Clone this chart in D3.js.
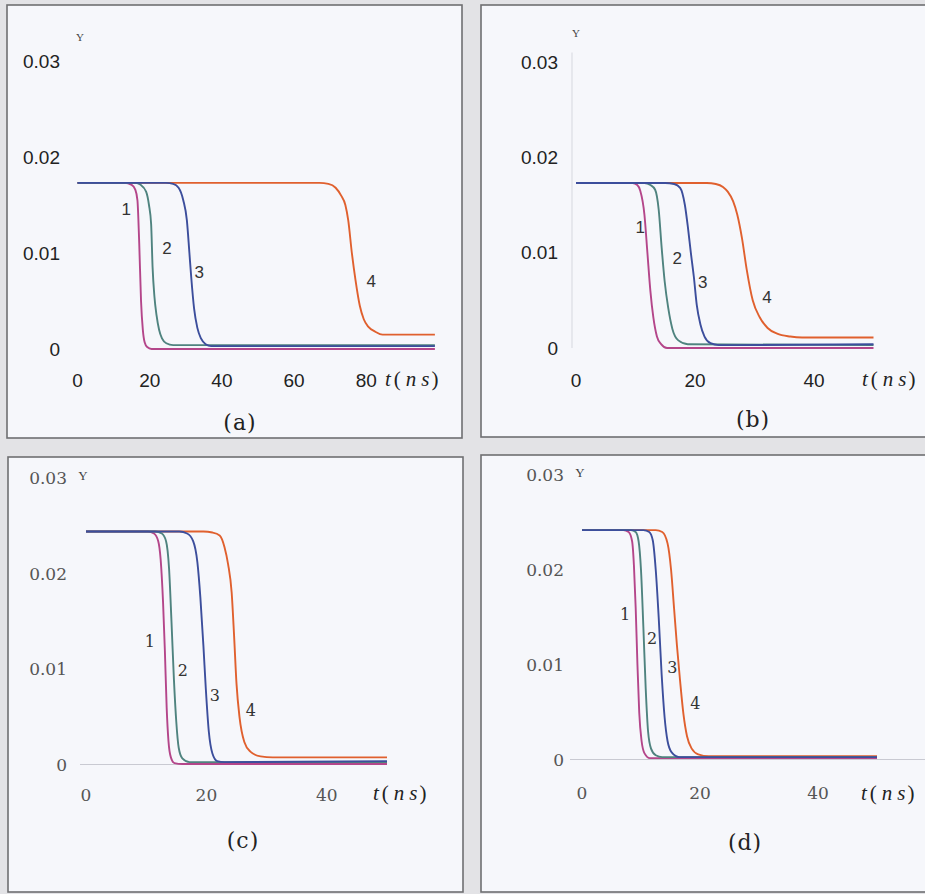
<!DOCTYPE html>
<html>
<head>
<meta charset="utf-8">
<script src="https://d3js.org/d3.v7.min.js"></script>
<style>
  html, body { margin: 0; padding: 0; background: #e3e3e6; }
  svg { display: block; }
</style>
</head>
<body>
<svg id="chart" width="925" height="894"></svg>
<script>
// ---- Curve data: [t (ns), Y] pairs, four curves per panel ----
const curveNames = ["1", "2", "3", "4"];
const yTicks = [0, 0.01, 0.02, 0.03];
const xTicksA = [0, 20, 40, 60, 80];
const xTicksB = [0, 20, 40];

// panel (a)
const aCurve1 = [[0,0.0173],[13,0.0173],[15,0.0171],[16,0.0166],[16.6,0.0155],[17.1,0.0110],[17.6,0.0050],[18.1,0.0020],[18.6,0.0007],[19.3,0.0002],[20.5,0.0000],[99,0.0000]];
const aCurve2 = [[0,0.0173],[16,0.0173],[17.5,0.0171],[19,0.0164],[19.8,0.0150],[20.4,0.0130],[20.8,0.0085],[21.3,0.0055],[21.9,0.0035],[22.6,0.0020],[23.4,0.0011],[24.6,0.0006],[26.5,0.0004],[99,0.0004]];
const aCurve3 = [[0,0.0173],[24.5,0.0173],[26.5,0.0172],[28,0.0168],[29.3,0.0155],[30.3,0.0134],[31.0,0.0100],[31.5,0.0075],[32.3,0.0042],[33.2,0.0022],[34.2,0.0011],[35.5,0.0005],[37,0.0003],[99,0.0003]];
const aCurve4 = [[0,0.0173],[67,0.0173],[69.5,0.0172],[71.5,0.0168],[73,0.0160],[74.2,0.0150],[75.0,0.0134],[76.0,0.0100],[77.0,0.0072],[78.2,0.0045],[79.3,0.0031],[80.6,0.0023],[82.5,0.0018],[84.5,0.0015],[99,0.0015]];
const aLabels = [[13.5,0.0145],[24.8,0.0105],[33.7,0.0080],[81.4,0.0070]];

// panel (b)
const bCurve1 = [[0,0.0173],[9.5,0.0173],[10.3,0.0171],[10.8,0.0165],[11.5,0.0140],[12.0,0.0100],[12.5,0.0060],[13.0,0.0032],[13.6,0.0012],[14.3,0.0004],[15.3,0.0000],[50,0.0000]];
const bCurve2 = [[0,0.0173],[11.5,0.0173],[12.5,0.0171],[13.3,0.0166],[13.9,0.0145],[14.4,0.0105],[14.9,0.0070],[15.5,0.0042],[16.2,0.0020],[17.2,0.0008],[18.8,0.0004],[50,0.0003]];
const bCurve3 = [[0,0.0173],[15,0.0173],[16.5,0.0172],[17.5,0.0168],[18.3,0.0150],[18.8,0.0127],[19.3,0.0100],[19.8,0.0075],[20.3,0.0045],[20.9,0.0025],[21.6,0.0012],[22.6,0.0005],[24,0.0003],[50,0.0004]];
const bCurve4 = [[0,0.0173],[22,0.0173],[23.5,0.0172],[24.7,0.0169],[25.5,0.0164],[26.4,0.0154],[27.1,0.0140],[27.9,0.0115],[28.7,0.0082],[29.7,0.0050],[30.9,0.0032],[32.2,0.0021],[33.8,0.0015],[36,0.0012],[38,0.0011],[50,0.0011]];
const bLabels = [[10.8,0.0126],[17.0,0.0094],[21.3,0.0069],[32.1,0.0053]];

// panel (c)
const cCurve1 = [[0,0.0244],[10.3,0.0244],[11.3,0.0242],[12.0,0.0234],[12.4,0.0215],[12.8,0.0170],[13.1,0.0120],[13.4,0.0060],[13.7,0.0025],[14.1,0.0008],[14.7,0.0002],[16,0.0001],[50,0.0001]];
const cCurve2 = [[0,0.0244],[11.5,0.0244],[12.6,0.0242],[13.3,0.0234],[13.8,0.0205],[14.2,0.0150],[14.6,0.0090],[15.0,0.0045],[15.4,0.0018],[16.0,0.0007],[17.2,0.0003],[50,0.0003]];
const cCurve3 = [[0,0.0244],[15.5,0.0244],[16.8,0.0242],[17.8,0.0234],[18.5,0.0212],[19.0,0.0175],[19.5,0.0125],[19.9,0.0080],[20.4,0.0035],[21.0,0.0012],[21.8,0.0004],[23,0.0003],[50,0.0004]];
const cCurve4 = [[0,0.0244],[19.5,0.0244],[21,0.0243],[22.2,0.0240],[23.0,0.0228],[23.6,0.0210],[24.2,0.0180],[24.6,0.0135],[25.0,0.0085],[25.5,0.0050],[26.3,0.0024],[27.3,0.0014],[29,0.0009],[31,0.0008],[50,0.0008]];
const cLabels = [[10.6,0.0129],[16.1,0.0099],[21.4,0.0073],[27.4,0.0057]];

// panel (d)
const dCurve1 = [[0,0.0242],[7,0.0242],[7.9,0.0240],[8.5,0.0230],[8.8,0.0205],[9.1,0.0160],[9.4,0.0100],[9.7,0.0050],[10.1,0.0020],[10.6,0.0007],[11.5,0.0002],[50,0.0002]];
const dCurve2 = [[0,0.0242],[8.3,0.0242],[9.1,0.0240],[9.6,0.0230],[10.0,0.0200],[10.4,0.0140],[10.8,0.0075],[11.2,0.0030],[11.7,0.0012],[12.5,0.0005],[13.6,0.0003],[50,0.0003]];
const dCurve3 = [[0,0.0242],[10.4,0.0242],[11.4,0.0240],[12.0,0.0231],[12.5,0.0200],[13.0,0.0150],[13.5,0.0090],[14.0,0.0045],[14.5,0.0020],[15.2,0.0008],[16.5,0.0003],[50,0.0003]];
const dCurve4 = [[0,0.0242],[12.5,0.0242],[13.6,0.0240],[14.5,0.0228],[15.1,0.0200],[15.6,0.0160],[16.1,0.0120],[16.6,0.0085],[17.2,0.0048],[17.8,0.0025],[18.6,0.0012],[19.7,0.0006],[21.5,0.0004],[50,0.0004]];
const dLabels = [[7.3,0.0153],[11.9,0.0128],[15.3,0.0097],[19.2,0.0060]];

// ---- Styling ----
const curveColors = ["#b4468a", "#4f837f", "#3c4e9c", "#e0602e"];
const drawOrder = [3, 0, 1, 2];
const sansFont = "'Liberation Sans', Arial, sans-serif";
const serifFont = "'DejaVu Serif', 'Liberation Serif', serif";

const panels = [
  { id: "a", frame: [7, 5, 462, 438], xDom: [0, 100], xRange: [77.5, 438.5], yRange: [349, 61],
    xTicks: xTicksA, series: [aCurve1, aCurve2, aCurve3, aCurve4], labels: aLabels,
    tickFont: sansFont, tickColor: "#222", tickSize: 19, numFont: sansFont, numSize: 17,
    yLabelX: 60, xLabelY: 380, yCapPos: [80, 37], unitPos: [385, 379], letterPos: [240, 422],
    axisLine: null },
  { id: "b", frame: [481, 5, 927, 437], xDom: [0, 50], xRange: [576, 873.5], yRange: [348, 62],
    xTicks: xTicksB, series: [bCurve1, bCurve2, bCurve3, bCurve4], labels: bLabels,
    tickFont: sansFont, tickColor: "#222", tickSize: 19, numFont: sansFont, numSize: 17,
    yLabelX: 558, xLabelY: 380, yCapPos: [576, 33], unitPos: [862, 379], letterPos: [753, 419],
    axisLine: "y" },
  { id: "c", frame: [8, 457, 463, 892], xDom: [0, 50], xRange: [86, 387], yRange: [765, 478],
    xTicks: xTicksB, series: [cCurve1, cCurve2, cCurve3, cCurve4], labels: cLabels,
    tickFont: serifFont, tickColor: "#555", tickSize: 17, numFont: serifFont, numSize: 16,
    yLabelX: 67, xLabelY: 795, yCapPos: [83, 475], unitPos: [373, 793], letterPos: [243, 840],
    axisLine: "x", axisExtent: [80, 387] },
  { id: "d", frame: [481, 455, 927, 892], xDom: [0, 50], xRange: [582, 877], yRange: [760, 475],
    xTicks: xTicksB, series: [dCurve1, dCurve2, dCurve3, dCurve4], labels: dLabels,
    tickFont: serifFont, tickColor: "#555", tickSize: 17, numFont: serifFont, numSize: 16,
    yLabelX: 564, xLabelY: 793, yCapPos: [580, 472], unitPos: [861, 793], letterPos: [745, 842],
    axisLine: "x", axisExtent: [570, 925] }
];

const svg = d3.select("#chart");

function fmtY(v) { return v === 0 ? "0" : v.toFixed(2); }

panels.forEach(p => {
  const [fx0, fy0, fx1, fy1] = p.frame;
  const g = svg.append("g").attr("class", "panel-" + p.id);

  g.append("rect")
    .attr("x", fx0).attr("y", fy0)
    .attr("width", fx1 - fx0).attr("height", fy1 - fy0)
    .attr("fill", "#f6f7fb")
    .attr("stroke", "#6f6f72").attr("stroke-width", 1.6);

  const x = d3.scaleLinear().domain(p.xDom).range(p.xRange);
  const y = d3.scaleLinear().domain([0, 0.03]).range(p.yRange);

  // faint axis line
  if (p.axisLine === "y") {
    g.append("line")
      .attr("x1", x(0) - 4).attr("x2", x(0) - 4)
      .attr("y1", y(0.031)).attr("y2", y(0))
      .attr("stroke", "#dcdde4").attr("stroke-width", 1.2);
  } else if (p.axisLine === "x") {
    g.append("line")
      .attr("x1", p.axisExtent[0]).attr("x2", p.axisExtent[1])
      .attr("y1", y(0) - 0.5).attr("y2", y(0) - 0.5)
      .attr("stroke", "#c9cad2").attr("stroke-width", 1.2);
  }

  // y tick labels
  g.selectAll("text.ytick").data(yTicks).join("text")
    .attr("class", "ytick")
    .attr("x", p.yLabelX)
    .attr("y", d => y(d))
    .attr("text-anchor", "end")
    .attr("dominant-baseline", "central")
    .attr("font-family", p.tickFont)
    .attr("font-size", p.tickSize)
    .attr("fill", p.tickColor)
    .text(fmtY);

  // x tick labels
  g.selectAll("text.xtick").data(p.xTicks).join("text")
    .attr("class", "xtick")
    .attr("x", d => x(d))
    .attr("y", p.xLabelY)
    .attr("text-anchor", "middle")
    .attr("dominant-baseline", "central")
    .attr("font-family", p.tickFont)
    .attr("font-size", p.tickSize)
    .attr("fill", p.tickColor)
    .text(d => String(d));

  // curves
  const line = d3.line()
    .x(d => x(d[0]))
    .y(d => y(d[1]))
    .curve(d3.curveMonotoneX);

  drawOrder.forEach(i => {
    g.append("path")
      .datum(p.series[i])
      .attr("d", line)
      .attr("fill", "none")
      .attr("stroke", curveColors[i])
      .attr("stroke-width", 1.9)
      .attr("stroke-linejoin", "round");
  });

  // curve numbers
  g.selectAll("text.curve-num").data(p.labels).join("text")
    .attr("class", "curve-num")
    .attr("x", d => x(d[0]))
    .attr("y", d => y(d[1]))
    .attr("text-anchor", "middle")
    .attr("dominant-baseline", "central")
    .attr("font-family", p.numFont)
    .attr("font-size", p.numSize)
    .attr("fill", "#333")
    .text((d, i) => curveNames[i]);

  // Y axis caption
  g.append("text")
    .attr("x", p.yCapPos[0]).attr("y", p.yCapPos[1])
    .attr("text-anchor", "middle")
    .attr("dominant-baseline", "central")
    .attr("font-family", "'Liberation Serif', serif")
    .attr("font-size", p.id === "a" || p.id === "b" ? 11 : 13)
    .attr("fill", "#444")
    .text("Y");

  // time unit caption
  const u = g.append("text")
    .attr("x", p.unitPos[0]).attr("y", p.unitPos[1])
    .attr("dominant-baseline", "central")
    .attr("font-family", "'Liberation Serif', serif")
    .attr("font-size", 21)
    .attr("fill", "#222");
  u.append("tspan").attr("font-style", "italic").text("t");
  u.append("tspan").attr("dx", 3).text("(");
  u.append("tspan").attr("dx", 5).attr("font-style", "italic").text("n");
  u.append("tspan").attr("dx", 5).attr("font-style", "italic").text("s");
  u.append("tspan").attr("dx", 2).text(")");

  // panel letter
  g.append("text")
    .attr("x", p.letterPos[0]).attr("y", p.letterPos[1])
    .attr("text-anchor", "middle")
    .attr("dominant-baseline", "central")
    .attr("font-family", serifFont)
    .attr("font-size", 22)
    .attr("letter-spacing", 1)
    .attr("fill", "#222")
    .text("(" + p.id + ")");
});
</script>
</body>
</html>
